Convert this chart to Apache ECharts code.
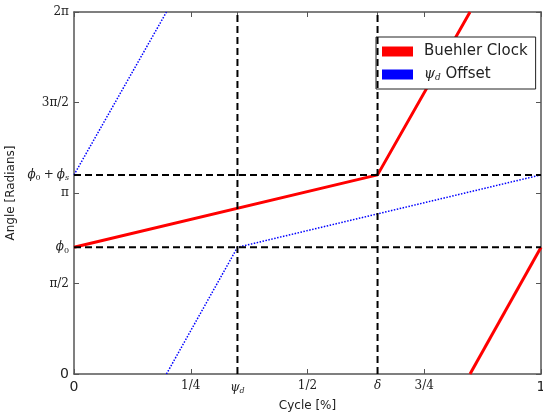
<!DOCTYPE html>
<html>
<head>
<meta charset="utf-8">
<script src="https://cdn.jsdelivr.net/npm/echarts@6/dist/echarts.min.js"></script>
<style>
  html, body { margin: 0; padding: 0; background: #fff; }
  #chart { width: 543px; height: 416px; }
</style>
</head>
<body>
<div id="chart"></div>
<script>
// tick positions and labels
const xTicks = [0, 0.25, 0.35, 0.5, 0.65, 0.75, 1]
const xTickLabels = ['{big|0}', '{s|1/4}', '{it|ψ}{sub|d}', '{s|1/2}', '{it|δ}', '{s|3/4}', '{big|1}']
const yTicks = [0, 1.571, 2.199, 3.142, 3.456, 4.712, 6.283]
const yTickLabels = ['{big|0}', '{s|π/2}', '{it|ϕ}{sub0|0}', '{s|π}',
  '{it|ϕ}{sub0|0}{pl|+}{it|ϕ}{sub|s}', '{s|3π/2}', '{s|2π}']

// Buehler clock (two pieces, wraps at 2π)
const clockX1 = [0, 0.65, 0.848]
const clockY1 = [2.199, 3.456, 6.283]
const clockX2 = [0.848, 1]
const clockY2 = [0, 2.199]

// psi_d offset (two pieces)
const offsetX1 = [0, 0.198]
const offsetY1 = [3.456, 6.283]
const offsetX2 = [0.198, 0.35, 1]
const offsetY2 = [0, 2.199, 3.456]

// dashed guides
const psiD = 0.35
const delta = 0.65
const phi0 = 2.199
const phi0s = 3.456
const yMax = 6.283

const zip = (xs, ys) => xs.map((x, i) => [x, ys[i]])

const serif = { fontFamily: 'DejaVu Serif', color: '#222' }
const labelRich = {
  s: Object.assign({ fontSize: 12 }, serif),
  pl: Object.assign({ fontSize: 12, padding: [0, 3] }, serif),
  it: Object.assign({ fontSize: 12, fontStyle: 'italic' }, serif),
  sub: Object.assign({ fontSize: 8, fontStyle: 'italic', padding: [7, 0, 0, 0] }, serif),
  sub0: Object.assign({ fontSize: 8, padding: [7, 0, 0, 0] }, serif),
  big: { fontFamily: 'DejaVu Sans', fontSize: 14, color: '#222' },
}

function pick(ticks, labels) {
  return (v) => {
    const i = ticks.findIndex((t) => Math.abs(t - v) < 1e-6)
    return i < 0 ? '' : labels[i]
  }
}

const axisLine = { show: true, onZero: false, lineStyle: { color: '#555', width: 1.5 } }
const tick = { show: true, inside: true, length: 5, lineStyle: { color: '#555', width: 1 } }
const guide = { color: '#000', width: 2, type: [7, 4] }

const chart = echarts.init(document.getElementById('chart'), null, { renderer: 'canvas' })
chart.setOption({
  animation: false,
  grid: { left: 74, right: 2, top: 12, bottom: 42, outerBoundsMode: 'none', containLabel: false },
  legend: {
    data: ['Buehler Clock', 'Offset'],
    orient: 'vertical',
    left: 376,
    top: 37,
    padding: [7, 8, 7, 6],
    itemWidth: 31,
    itemHeight: 10,
    itemGap: 8,
    icon: 'rect',
    backgroundColor: '#fff',
    borderColor: '#222',
    borderWidth: 1,
    borderRadius: 0,
    formatter: (name) => name === 'Offset' ? '{it|ψ}{sub|d}{t| Offset}' : '{t|' + name + '}',
    textStyle: {
      padding: [0, 0, 0, 6],
      rich: {
        t: { fontFamily: 'DejaVu Sans', fontSize: 15, color: '#222' },
        it: { fontFamily: 'DejaVu Serif', fontStyle: 'italic', fontSize: 14, color: '#222' },
        sub: { fontFamily: 'DejaVu Serif', fontStyle: 'italic', fontSize: 9, color: '#222', padding: [6, 0, 0, 0] },
      },
    },
  },
  xAxis: [
    {
      type: 'value',
      min: 0,
      max: 1,
      name: 'Cycle [%]',
      nameLocation: 'middle',
      nameGap: 26,
      nameTextStyle: { fontFamily: 'DejaVu Sans', fontSize: 12, color: '#222' },
      axisLine: axisLine,
      splitLine: { show: false },
      axisTick: Object.assign({ customValues: xTicks }, tick),
      axisLabel: { customValues: xTicks, margin: 6, formatter: pick(xTicks, xTickLabels), rich: labelRich },
    },
    {
      type: 'value',
      min: 0,
      max: 1,
      position: 'top',
      axisLine: axisLine,
      splitLine: { show: false },
      axisTick: Object.assign({ customValues: xTicks }, tick),
      axisLabel: { show: false },
    },
  ],
  yAxis: [
    {
      type: 'value',
      min: 0,
      max: yMax,
      name: 'Angle [Radians]',
      nameLocation: 'middle',
      nameGap: 45,
      nameTextStyle: { fontFamily: 'DejaVu Sans', fontSize: 12, color: '#222' },
      axisLine: axisLine,
      splitLine: { show: false },
      axisTick: Object.assign({ customValues: yTicks }, tick),
      axisLabel: { customValues: yTicks, margin: 5, formatter: pick(yTicks, yTickLabels), rich: labelRich },
    },
    {
      type: 'value',
      min: 0,
      max: yMax,
      position: 'right',
      axisLine: axisLine,
      splitLine: { show: false },
      axisTick: Object.assign({ customValues: yTicks }, tick),
      axisLabel: { show: false },
    },
  ],
  series: [
    { name: 'Offset', type: 'line', data: zip(offsetX1, offsetY1), showSymbol: false, color: '#0000ff',
      lineStyle: { width: 1.5, type: [1.5, 1.5] }, z: 2 },
    { name: 'Offset', type: 'line', data: zip(offsetX2, offsetY2), showSymbol: false, color: '#0000ff',
      lineStyle: { width: 1.5, type: [1.5, 1.5] }, z: 2 },
    { name: 'Buehler Clock', type: 'line', data: zip(clockX1, clockY1), showSymbol: false, color: '#ff0000',
      lineStyle: { width: 3 }, z: 3 },
    { name: 'Buehler Clock', type: 'line', data: zip(clockX2, clockY2), showSymbol: false, color: '#ff0000',
      lineStyle: { width: 3 }, z: 3 },
    { type: 'line', data: [[0, phi0], [1, phi0]], showSymbol: false, lineStyle: guide, z: 4, silent: true },
    { type: 'line', data: [[0, phi0s], [1, phi0s]], showSymbol: false, lineStyle: guide, z: 4, silent: true },
    { type: 'line', data: [[psiD, 0], [psiD, yMax]], showSymbol: false, lineStyle: guide, z: 4, silent: true },
    { type: 'line', data: [[delta, 0], [delta, yMax]], showSymbol: false, lineStyle: guide, z: 4, silent: true },
  ],
})
</script>
</body>
</html>
